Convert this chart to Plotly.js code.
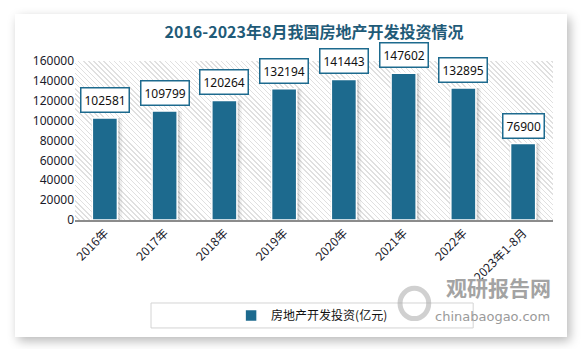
<!DOCTYPE html>
<html>
<head>
<meta charset="utf-8">
<script src="https://cdn.plot.ly/plotly-3.0.1.min.js"></script>
<style>
  html, body { margin:0; padding:0; background:#ffffff; width:583px; height:349px; overflow:hidden; }
  #card { position:absolute; left:15px; top:14px; width:552px; height:323px; background:#ffffff;
          box-shadow: 3px 4px 10px rgba(0,0,0,0.28); }
  #hatch { position:absolute; left:75px; top:61px; width:478px; height:159px;
           background: repeating-linear-gradient(45deg, #ffffff 0px, #ffffff 2.6px, #e0e0e0 2.6px, #e0e0e0 3.6px); }
  #chart { position:absolute; left:0; top:0; width:583px; height:349px; }
</style>
</head>
<body>
<div id="card"></div>
<div id="hatch"></div>
<div id="chart"></div>
<script>
const categories = ["2016年", "2017年", "2018年", "2019年", "2020年", "2021年", "2022年", "2023年1-8月"];
const investment = [102581, 109799, 120264, 132194, 141443, 147602, 132895, 76900];
const seriesName = "房地产开发投资(亿元)";
const yTicks = [0, 20000, 40000, 60000, 80000, 100000, 120000, 140000, 160000];

const barColor = "#1d6a8e";

const shadowOuter = {
  type: "bar", x: categories, y: investment, width: 0.52, offset: -0.23,
  marker: { color: "rgba(0,0,0,0.06)" }, showlegend: false, hoverinfo: "skip"
};
const shadowInner = {
  type: "bar", x: categories, y: investment, width: 0.47, offset: -0.215,
  marker: { color: "rgba(0,0,0,0.10)" }, showlegend: false, hoverinfo: "skip"
};
const bars = {
  type: "bar", x: categories, y: investment, name: seriesName, width: 0.42, offset: -0.21,
  marker: { color: barColor, line: { color: "#ffffff", width: 1.5 } }
};

const labelAnnotations = categories.map((c, i) => ({
  x: c, y: investment[i], xref: "x", yref: "y", text: String(investment[i]),
  showarrow: false, yanchor: "bottom", yshift: 5,
  font: { family: "Noto Sans, DejaVu Sans, sans-serif", size: 12, color: "#111111" },
  bgcolor: "#ffffff", bordercolor: barColor, borderwidth: 1.5, borderpad: 3
}));

const watermark = [
  { xref: "paper", yref: "paper", x: 1.0, y: -0.42, xanchor: "right", yanchor: "middle",
    text: "<b>观研报告网</b>", showarrow: false,
    font: { family: "Noto Sans CJK SC, sans-serif", size: 21, color: "#a3a3a3" } },
  { xref: "paper", yref: "paper", x: 0.998, y: -0.61, xanchor: "right", yanchor: "middle",
    text: "chinabaogao.com", showarrow: false,
    font: { family: "DejaVu Sans, sans-serif", size: 13, color: "#9a9a9a" } }
];

const layout = {
  width: 583, height: 349,
  margin: { l: 75, r: 30, t: 61, b: 129 },
  paper_bgcolor: "rgba(0,0,0,0)", plot_bgcolor: "rgba(0,0,0,0)",
  barmode: "overlay",
  title: {
    text: "<b>2016-2023年8月我国房地产开发投资情况</b>",
    x: 0.5, xref: "paper", xanchor: "center",
    y: 1 - 32 / 349, yref: "container", yanchor: "middle",
    font: { family: "Noto Sans CJK SC, sans-serif", size: 16, color: "#1f5b78" }
  },
  xaxis: {
    type: "category", tickangle: -45, showgrid: false, ticks: "",
    showline: true, linecolor: "#8c8c8c", linewidth: 1.5,
    tickfont: { family: "Noto Sans CJK SC, sans-serif", size: 12, color: "#1a1a2a" }
  },
  yaxis: {
    range: [0, 160000], tickvals: yTicks, ticktext: yTicks.map(String),
    showgrid: false, zeroline: false, showline: false, ticks: "",
    tickfont: { family: "Noto Sans, DejaVu Sans, sans-serif", size: 12, color: "#1a1a2a" }
  },
  showlegend: true,
  legend: {
    orientation: "h", x: 0.496, xanchor: "center", y: -0.6, yanchor: "middle",
    bgcolor: "rgba(0,0,0,0)", borderwidth: 0,
    font: { family: "Noto Sans CJK SC, sans-serif", size: 12, color: "#111111" }
  },
  shapes: [
    { type: "rect", xref: "paper", yref: "paper", x0: 0.159, x1: 0.833, y0: -0.679, y1: -0.522,
      line: { color: "#d4d4d4", width: 1 }, fillcolor: "rgba(0,0,0,0)", layer: "below" },
    { type: "circle", xref: "paper", yref: "paper", x0: 0.68, x1: 0.74, y0: -0.62, y1: -0.43,
      line: { color: "rgba(170,170,170,0.55)", width: 5 }, fillcolor: "rgba(0,0,0,0)" }
  ],
  annotations: labelAnnotations.concat(watermark)
};

Plotly.newPlot("chart", [shadowOuter, shadowInner, bars], layout, { displayModeBar: false, staticPlot: true });
</script>
</body>
</html>
